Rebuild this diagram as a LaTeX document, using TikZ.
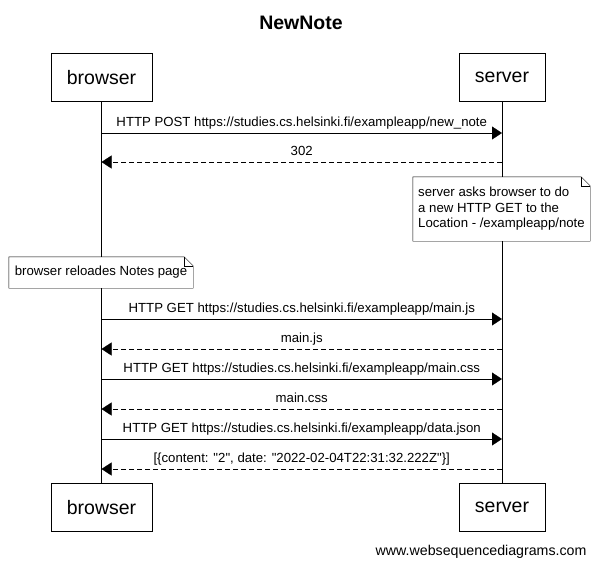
\documentclass[tikz,border=0pt]{standalone}
\usepackage{fontspec}
\setmainfont{Liberation Sans}[Ligatures=TeXOff]
\usetikzlibrary{arrows.meta,positioning}

\begin{document}
\begin{tikzpicture}[x=1pt,y=-1pt,
      actor/.style={rectangle, draw=black, minimum height=48pt, inner xsep=16pt, font=\fontsize{19.5}{22}\selectfont},
      msg/.style={inner sep=0pt, text height=9.5pt, text depth=3pt, font=\fontsize{13.2}{15}\selectfont},
      notiz/.style={fill=white, inner sep=0pt, align=left, font=\fontsize{13.2}{15.5}\selectfont},
      pfeil/.style={-{Triangle[length=10pt,width=13pt]}},
      antwort/.style={pfeil, dash pattern=on 5pt off 3pt}]

\useasboundingbox (0,0) rectangle (598,566);

\node[font=\bfseries\fontsize{19.5}{22}\selectfont] (titel) at (301,23) {NewNote};
\node[actor] (bOben) at (101.5,77.5) {browser};
\node[actor] (sOben) at (502,77.5) {server};
\node[actor] (bUnten) at (101.5,507.5) {browser};
\node[actor] (sUnten) at (502,507.5) {server};
\draw (bOben) -- (bUnten);
\draw (sOben) -- (sUnten);

% Punkte auf den Lebenslinien
\foreach \n/\y in {1/133,2/162,3/319,4/349,5/379,6/409,7/439,8/469} {
  \coordinate (b\n) at (101.5,\y);
  \coordinate (s\n) at (502,\y);
}

\draw[pfeil] (b1) -- node[msg, above=3pt] (m1) {HTTP POST https://studies.cs.helsinki.fi/exampleapp/new\_note} (s1);
\draw[antwort] (s2) -- node[msg, above=3pt] (m2) {302} (b2);

\node[notiz, minimum width=177pt, minimum height=64pt] (nS) at (501.5,209) {server asks browser to do\\a new HTTP GET to the\\Location - /exampleapp/note};
\draw (nS.north west) -- ([xshift=-9pt]nS.north east) -- ([yshift=-9pt]nS.north east) -- (nS.south east) -- (nS.south west) -- cycle;
\draw ([xshift=-9pt]nS.north east) -- ([xshift=-9pt,yshift=-9pt]nS.north east) -- ([yshift=-9pt]nS.north east);

\node[notiz, minimum width=184pt, minimum height=31pt] (nB) at (101,272.5) {browser reloades Notes page};
\draw (nB.north west) -- ([xshift=-9pt]nB.north east) -- ([yshift=-9pt]nB.north east) -- (nB.south east) -- (nB.south west) -- cycle;
\draw ([xshift=-9pt]nB.north east) -- ([xshift=-9pt,yshift=-9pt]nB.north east) -- ([yshift=-9pt]nB.north east);

\draw[pfeil] (b3) -- node[msg, above=3pt] (m3) {HTTP GET https://studies.cs.helsinki.fi/exampleapp/main.js} (s3);
\draw[antwort] (s4) -- node[msg, above=3pt] (m4) {main.js} (b4);
\draw[pfeil] (b5) -- node[msg, above=3pt] (m5) {HTTP GET https://studies.cs.helsinki.fi/exampleapp/main.css} (s5);
\draw[antwort] (s6) -- node[msg, above=3pt] (m6) {main.css} (b6);
\draw[pfeil] (b7) -- node[msg, above=3pt] (m7) {HTTP GET https://studies.cs.helsinki.fi/exampleapp/data.json} (s7);
\draw[antwort] (s8) -- node[msg, above=3pt] (m8) {[\{content: "2", date: "2022-02-04T22:31:32.222Z"\}]} (b8);

\node[anchor=east, font=\fontsize{14.2}{16}\selectfont] (fuss) at (590,552) {www.websequencediagrams.com};

\end{tikzpicture}
\end{document}
